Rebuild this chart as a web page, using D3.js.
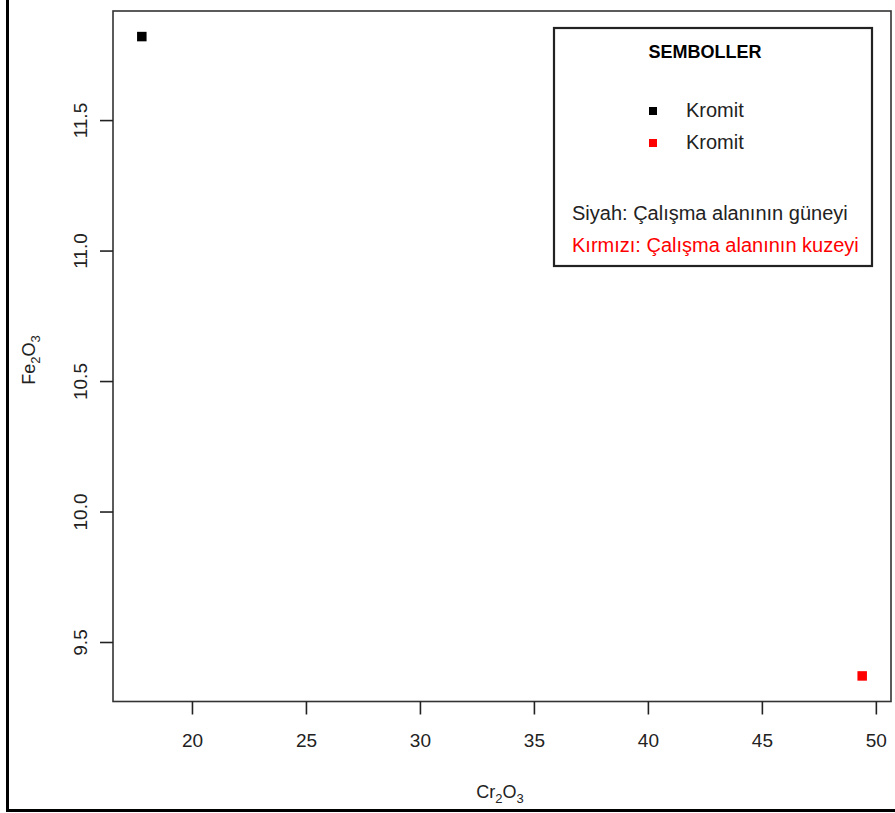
<!DOCTYPE html>
<html>
<head>
<meta charset="utf-8">
<script src="https://cdn.jsdelivr.net/npm/d3@7"></script>
<style>
  html, body { margin: 0; padding: 0; background: #fff; }
  svg { display: block; font-family: "Liberation Sans", Arial, sans-serif; }
</style>
</head>
<body>
<svg id="chart" width="895" height="813"></svg>
<script>
// Chromite samples: Cr2O3 vs Fe2O3
const cr2o3 = [17.8, 49.4];
const fe2o3 = [11.82, 9.37];
const colors = ["#000000", "#ff0000"];
const xTicks = [20, 25, 30, 35, 40, 45, 50];
const yTicks = [9.5, 10.0, 10.5, 11.0, 11.5];
const legendLabels = ["Kromit", "Kromit"];
const legendNotes = ["Siyah: Çalışma alanının güneyi", "Kırmızı: Çalışma alanının kuzeyi"];
const legendTitle = "SEMBOLLER";

const svg = d3.select("#chart");
const plot = { left: 113, top: 11, right: 891, bottom: 701.5 };
const fontTick = 19;

// R-style 4% padding on each side of the data range
function padded(vals) {
  const [a, b] = d3.extent(vals);
  const p = (b - a) * 0.04;
  return [a - p, b + p];
}

const x = d3.scaleLinear().domain(padded(cr2o3)).range([plot.left, plot.right]);
const y = d3.scaleLinear().domain(padded(fe2o3)).range([plot.bottom, plot.top]);

// outer frame (left and bottom edges)
svg.append("path")
  .attr("d", "M7.5,0 V810.5 H895")
  .attr("fill", "none").attr("stroke", "#000").attr("stroke-width", 3);

// plot box
svg.append("rect")
  .attr("x", plot.left).attr("y", plot.top)
  .attr("width", plot.right - plot.left).attr("height", plot.bottom - plot.top)
  .attr("fill", "none").attr("stroke", "#333").attr("stroke-width", 1.6);

// x axis
const xAxis = svg.append("g")
  .attr("transform", `translate(0,${plot.bottom})`)
  .call(d3.axisBottom(x).tickValues(xTicks).tickSize(13).tickPadding(19).tickFormat(d3.format("d")));
xAxis.select(".domain").remove();
xAxis.selectAll(".tick line").attr("stroke", "#222").attr("stroke-width", 1.6);
xAxis.selectAll(".tick text").attr("font-size", fontTick).attr("fill", "#222")
  .attr("font-family", "Liberation Sans, Arial, sans-serif");

// y axis (labels rotated, R style)
const yAxis = svg.append("g")
  .attr("transform", `translate(${plot.left},0)`)
  .call(d3.axisLeft(y).tickValues(yTicks).tickSize(13).tickFormat(d3.format(".1f")));
yAxis.select(".domain").remove();
yAxis.selectAll(".tick line").attr("stroke", "#222").attr("stroke-width", 1.6);
yAxis.selectAll(".tick text")
  .attr("font-size", fontTick).attr("fill", "#222")
  .attr("font-family", "Liberation Sans, Arial, sans-serif")
  .attr("x", null).attr("dy", null)
  .attr("text-anchor", "middle")
  .attr("transform", "translate(-26,0) rotate(-90)");

// axis titles with subscripts
const xt = svg.append("text").attr("x", 500).attr("y", 798)
  .attr("text-anchor", "middle").attr("font-size", 18).attr("fill", "#222");
xt.append("tspan").text("Cr");
xt.append("tspan").attr("font-size", 13).attr("dy", 5).text("2");
xt.append("tspan").attr("dy", -5).text("O");
xt.append("tspan").attr("font-size", 13).attr("dy", 5).text("3");

const yt = svg.append("text")
  .attr("transform", "translate(35,360) rotate(-90)")
  .attr("text-anchor", "middle").attr("font-size", 18).attr("fill", "#222");
yt.append("tspan").text("Fe");
yt.append("tspan").attr("font-size", 13).attr("dy", 5).text("2");
yt.append("tspan").attr("dy", -5).text("O");
yt.append("tspan").attr("font-size", 13).attr("dy", 5).text("3");

// points
const s = 9.5;
svg.append("g").selectAll("rect")
  .data(cr2o3.map((v, i) => ({ x: v, y: fe2o3[i], c: colors[i] })))
  .join("rect")
  .attr("x", d => x(d.x) - s / 2).attr("y", d => y(d.y) - s / 2)
  .attr("width", s).attr("height", s).attr("fill", d => d.c);

// legend
const lg = svg.append("g");
lg.append("rect").attr("x", 554).attr("y", 28).attr("width", 318).attr("height", 238)
  .attr("fill", "#fff").attr("stroke", "#222").attr("stroke-width", 2.2);
lg.append("text").attr("x", 705).attr("y", 58).attr("text-anchor", "middle")
  .attr("font-size", 18).attr("font-weight", "bold").attr("fill", "#000").text(legendTitle);
legendLabels.forEach((lab, i) => {
  const cy = 111 + i * 32;
  lg.append("rect").attr("x", 649).attr("y", cy - 4).attr("width", 8).attr("height", 8).attr("fill", colors[i]);
  lg.append("text").attr("x", 686).attr("y", cy + 6).attr("font-size", 20).attr("fill", "#222").text(lab);
});
legendNotes.forEach((note, i) => {
  lg.append("text").attr("x", 572).attr("y", 220 + i * 32).attr("font-size", 20)
    .attr("fill", colors[i] === "#000000" ? "#222" : "#ff0000").text(note);
});
</script>
</body>
</html>
